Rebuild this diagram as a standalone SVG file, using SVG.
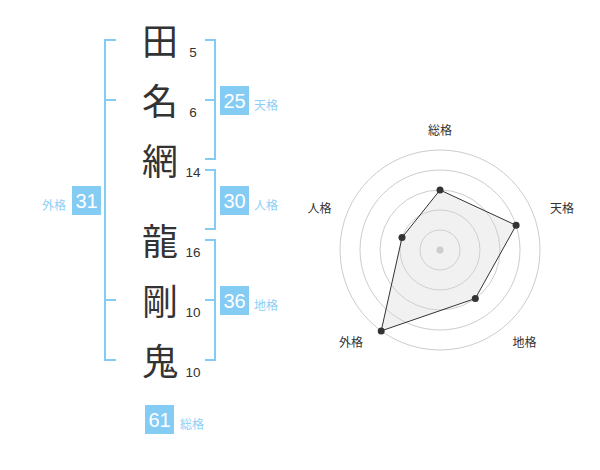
<svg xmlns="http://www.w3.org/2000/svg" width="600" height="470" viewBox="0 0 600 470">
<style>
.kanji{font-family:"Noto Sans CJK JP","Noto Sans CJK SC",sans-serif;font-size:36px;fill:#333;text-anchor:middle}
.stroke{font-family:"Liberation Sans",Arial,sans-serif;font-size:13.5px;fill:#333;text-anchor:middle}
.br{fill:none;stroke:#85ccf5;stroke-width:2}
.box{fill:#85ccf5}
.num{font-family:"Liberation Sans",Arial,sans-serif;font-size:20px;fill:#fff;text-anchor:middle}
.lbl{font-family:"Noto Sans CJK JP","Noto Sans CJK SC",sans-serif;font-size:12px;fill:#8ccff7}
.ring{fill:none;stroke:#cccccc;stroke-width:1}
.axl{font-family:"Noto Sans CJK JP","Noto Sans CJK SC",sans-serif;font-size:12px;fill:#333;text-anchor:middle}
.pt{fill:#333}
</style>
<rect width="600" height="470" fill="#fff"/>
<g id="chars">
<g id="c1"><text class="kanji" x="160" y="55">田</text><text class="stroke" x="193" y="57">5</text></g>
<g id="c2"><text class="kanji" x="160" y="115">名</text><text class="stroke" x="193" y="117">6</text></g>
<g id="c3"><text class="kanji" x="160" y="175">網</text><text class="stroke" x="193" y="177">14</text></g>
<g id="c4"><text class="kanji" x="160" y="255">龍</text><text class="stroke" x="193" y="257">16</text></g>
<g id="c5"><text class="kanji" x="160" y="315">剛</text><text class="stroke" x="193" y="317">10</text></g>
<g id="c6"><text class="kanji" x="160" y="375">鬼</text><text class="stroke" x="193" y="377">10</text></g>
</g>
<g id="connectors">
<path class="br" d="M116,40 H105 V360 H116 M105,100 H116 M105,300 H116"/>
<path class="br" d="M205,40 H215 V159 H205 M205,100 H215"/>
<path class="br" d="M205,170 H215 V229 H205"/>
<path class="br" d="M205,240 H215 V360 H205 M205,300 H215"/>
</g>
<g id="tenkaku"><rect class="box" x="220" y="86" width="29" height="29"/><text class="num" x="234.5" y="108">25</text><text class="lbl" x="254" y="110">天格</text></g>
<g id="jinkaku"><rect class="box" x="220" y="186" width="29" height="29"/><text class="num" x="234.5" y="208">30</text><text class="lbl" x="254" y="210">人格</text></g>
<g id="chikaku"><rect class="box" x="220" y="286" width="29" height="29"/><text class="num" x="234.5" y="308">36</text><text class="lbl" x="254" y="310">地格</text></g>
<g id="gaikaku"><rect class="box" x="72" y="186" width="29" height="29"/><text class="num" x="86.5" y="208">31</text><text class="lbl" x="42" y="210">外格</text></g>
<g id="soukaku"><rect class="box" x="145" y="405" width="29" height="29"/><text class="num" x="159.5" y="427">61</text><text class="lbl" x="180" y="429">総格</text></g>
<g id="radar">
<circle class="ring" cx="440" cy="250" r="20"/>
<circle class="ring" cx="440" cy="250" r="40"/>
<circle class="ring" cx="440" cy="250" r="60"/>
<circle class="ring" cx="440" cy="250" r="80"/>
<circle class="ring" cx="440" cy="250" r="100"/>
<polygon points="440,190 516.1,225.3 475.3,298.5 381.2,330.9 402,237.6" fill="#d8d8d8" fill-opacity="0.35" stroke="#333" stroke-width="1"/>
<circle cx="440" cy="250" r="3.5" fill="#cccccc"/>
<circle class="pt" cx="440" cy="190" r="3.5"/>
<circle class="pt" cx="516.1" cy="225.3" r="3.5"/>
<circle class="pt" cx="475.3" cy="298.5" r="3.5"/>
<circle class="pt" cx="381.2" cy="330.9" r="3.5"/>
<circle class="pt" cx="402" cy="237.6" r="3.5"/>
<text class="axl" x="440" y="135">総格</text>
<text class="axl" x="562" y="213">天格</text>
<text class="axl" x="524.5" y="347">地格</text>
<text class="axl" x="351" y="347">外格</text>
<text class="axl" x="319.5" y="213">人格</text>
</g>
</svg>
